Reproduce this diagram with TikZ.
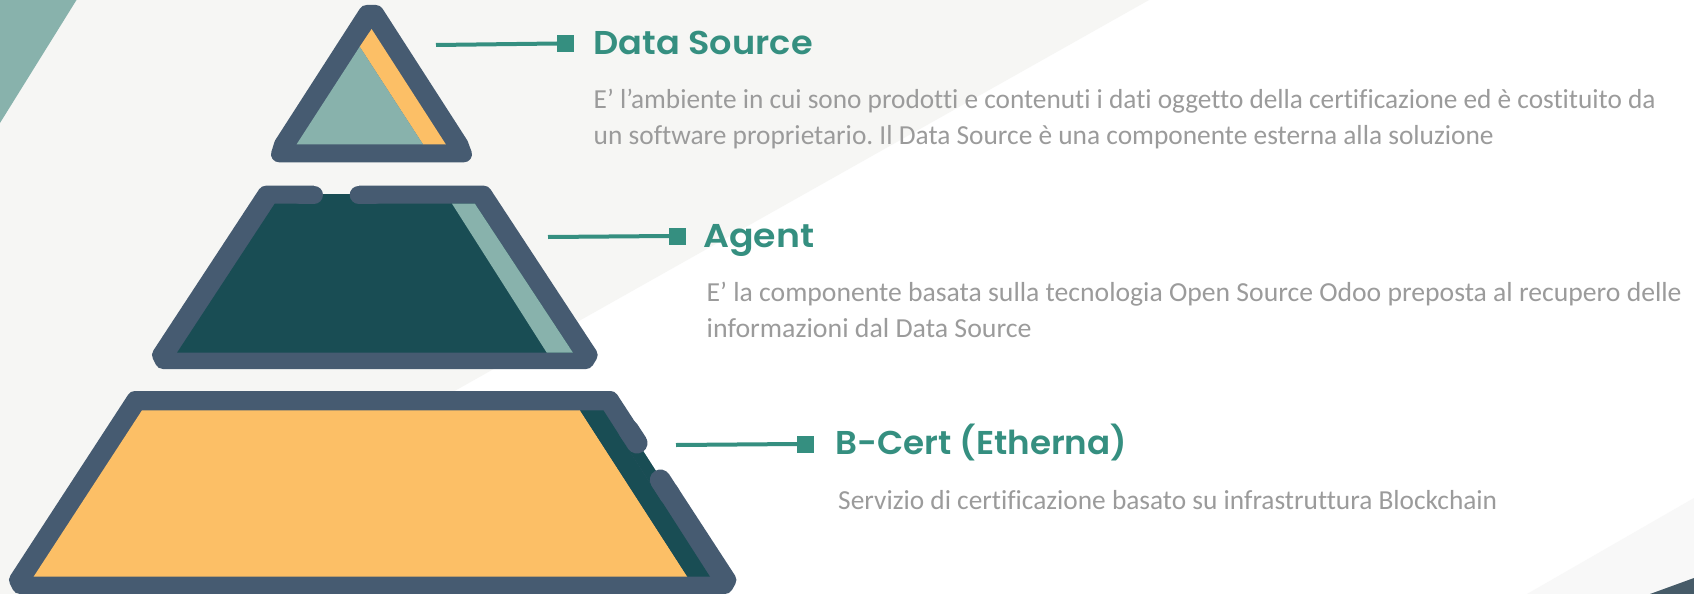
\documentclass[tikz,border=0pt]{standalone}
\usepackage{fontspec}
\usepackage{graphicx}
\newfontfamily\titlefont{Poppins SemiBold}
\newfontfamily\bodyfont{Carlito}[Ligatures=NoCommon]
\definecolor{bgcol}{HTML}{F6F6F4}
\definecolor{bgcolb}{HTML}{F8F8F8}
\definecolor{slatecol}{HTML}{465B71}
\definecolor{darkteal}{HTML}{194D54}
\definecolor{lightteal}{HTML}{88B2AC}
\definecolor{orangecol}{HTML}{FCBF66}
\definecolor{titlecol}{HTML}{358F80}
\definecolor{textcol}{HTML}{9B9B9B}
\definecolor{cornerdark}{HTML}{465B68}
\newcommand{\fitw}[2]{\resizebox{#1pt}{\height}{\frenchspacing #2}}
\tikzset{
  x=1pt,y=-1pt,
  shell/.style={fill=slatecol,draw=slatecol,line width=16pt,line join=round},
  flatcap/.style={draw=slatecol,line width=18pt,line cap=round},
  sidecap/.style={draw=slatecol,line width=21pt,line cap=round},
  connector/.style={draw=titlecol,line width=4pt},
  marker/.style={fill=titlecol,draw=none,minimum width=17pt,minimum height=17pt,inner sep=0pt,anchor=west},
  titletext/.style={anchor=base west,inner sep=0pt,text=titlecol,font=\titlefont\fontsize{33}{33}\selectfont},
  bodytext/.style={anchor=base west,inner sep=0pt,text=textcol,font=\bodyfont\fontsize{27.5}{27.5}\selectfont}
}
\begin{document}
\begin{tikzpicture}
\useasboundingbox (0,0) rectangle (1694,594);
\fill[white] (0,0) rectangle (1694,594);
% background shapes
\fill[bgcol] (0,0) -- (1149,0) -- (94,594) -- (0,594) -- cycle;
\fill[bgcolb] (1527,594) -- (1694,498) -- (1694,594) -- cycle;
\fill[cornerdark] (1650,594) -- (1694,578) -- (1694,594) -- cycle;
\fill[lightteal] (0,0) -- (76.5,0) -- (0,123) -- cycle;

% top triangle
\draw[shell] (366.6,13) -- (375.8,13) -- (460.3,144.3) -- (464,154.3) -- (279,154.3) -- (282.1,144.3) -- cycle;
\fill[orangecol] (371.6,29) -- (445.8,144.3) -- (423,144.3) -- (359.7,46.7) -- cycle;
\fill[lightteal] (296.6,144.3) -- (359.7,46.7) -- (423,144.3) -- cycle;

% middle trapezoid
\draw[shell] (265.8,193.7) -- (483.8,193.7) -- (589.7,355) -- (586,361) -- (163,361) -- (160,355) -- cycle;
\fill[darkteal] (274.7,203.7) -- (474.9,203.7) -- (573,352.7) -- (177,352.7) -- cycle;
\fill[lightteal] (452,203.7) -- (474.9,203.7) -- (573,352.7) -- (546.8,352.7) -- cycle;
\fill[bgcol] (314,184) rectangle (358.7,194);
\fill[darkteal] (314,194) rectangle (358.7,204);
\draw[flatcap] (300,194.7) -- (314,194.7);
\draw[flatcap] (358.7,194.7) -- (375,194.7);

% bottom trapezoid
\draw[shell] (134.9,399) -- (610.5,399) -- (728.4,580) -- (725,586) -- (20,586) -- (17,580) -- cycle;
\fill[orangecol] (142,410.3) -- (580,410.3) -- (687.4,576.7) -- (33.6,576.7) -- cycle;
\fill[darkteal] (580,410.3) -- (603.4,410.3) -- (710,576.7) -- (687.4,576.7) -- cycle;
\fill[darkteal] (622.4,440) -- (636.4,440) -- (665.2,485) -- (651.2,485) -- cycle;
\fill[white] (636.4,440) -- (658,440) -- (687,485) -- (665.2,485) -- cycle;
\draw[sidecap] (628.5,430) -- (637,443);
\draw[sidecap] (660.3,480) -- (670,495);

% markers and connectors
\node[marker] (sqA) at (557,43.5) {};
\coordinate (startA) at (436,45);
\draw[connector] (startA) -- (sqA.west);
\node[marker] (sqB) at (669,236) {};
\coordinate (startB) at (548,237);
\draw[connector] (startB) -- (sqB.west);
\node[marker] (sqC) at (797,444) {};
\coordinate (startC) at (676,445);
\draw[connector] (startC) -- (sqC.west);

% titles
\node[titletext] (titleA) at (593.5,54.5) {\fitw{219}{Data Source}};
\node[titletext] (titleB) at (703,247) {\fitw{111}{Agent}};
\node[titletext] (titleC) at (835,454) {\fitw{292}{B-Cert (Etherna)}};

% descriptions
\node[bodytext] (bodyA1) at (593.5,108) {\fitw{1062}{E’ l’ambiente in cui sono prodotti e contenuti i dati oggetto della certificazione ed è costituito da}};
\node[bodytext] (bodyA2) at (593.5,144.3) {\fitw{900}{un software proprietario. Il Data Source è una componente esterna alla soluzione}};
\node[bodytext] (bodyB1) at (706.5,301) {\fitw{975}{E’ la componente basata sulla tecnologia Open Source Odoo preposta al recupero delle}};
\node[bodytext] (bodyB2) at (706.5,337) {\fitw{325}{informazioni dal Data Source}};
\node[bodytext] (bodyC1) at (838,509.5) {\fitw{659}{Servizio di certificazione basato su infrastruttura Blockchain}};
\end{tikzpicture}
\end{document}
